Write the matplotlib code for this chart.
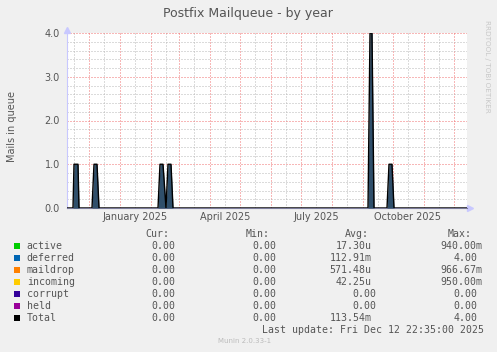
import numpy as np
import matplotlib
matplotlib.use('Agg')
import matplotlib.pyplot as plt
import matplotlib.dates as mdates
from matplotlib.patches import Rectangle
from matplotlib.ticker import MultipleLocator, FuncFormatter

# data (Total mails in queue)
total_dates = ['2024-11-09', '2024-11-15', '2024-11-16', '2024-11-20', '2024-11-21',
               '2024-12-04', '2024-12-06', '2024-12-09', '2024-12-11',
               '2025-02-08', '2025-02-10', '2025-02-13', '2025-02-16',
               '2025-02-18', '2025-02-21', '2025-02-23',
               '2025-09-06', '2025-09-08', '2025-09-10', '2025-09-12',
               '2025-09-25', '2025-09-27', '2025-09-30', '2025-10-02', '2025-12-14']
total_values = [0, 0, 1, 1, 0,
                0, 1, 1, 0,
                0, 1, 1, 0,
                1, 1, 0,
                0, 4, 4, 0,
                0, 1, 1, 0, 0]

x_start = '2024-11-09'
x_end = '2025-12-14'

legend_names = ['active', 'deferred', 'maildrop', 'incoming', 'corrupt', 'held', 'Total']
legend_colors = ['#00cc00', '#0066b3', '#ff8000', '#ffcc00', '#330099', '#990099', '#000000']
cur_vals = ['0.00'] * 7
min_vals = ['0.00'] * 7
avg_vals = ['17.30u', '112.91m', '571.48u', '42.25u', '0.00', '0.00', '113.54m']
max_vals = ['940.00m', '4.00', '966.67m', '950.00m', '0.00', '0.00', '4.00']

W, H = 497, 352
bg = '#f0f0f0'
txt = '#555555'

fig = plt.figure(figsize=(W / 100, H / 100), dpi=100, facecolor=bg)
ax = fig.add_axes([67 / W, (H - 208) / H, 400 / W, 175 / H])
ax.set_facecolor('white')

d = [np.datetime64(s) for s in total_dates]
d = mdates.date2num(np.array(d, dtype='datetime64[D]'))
ax.fill_between(d, total_values, color='#2f4f6b', lw=0, zorder=3)
ax.plot(d, total_values, color='black', lw=1.0, zorder=4)

ax.set_xlim(mdates.date2num(np.datetime64(x_start)), mdates.date2num(np.datetime64(x_end)))
ax.set_ylim(0, 4.0)

ax.xaxis.set_major_locator(mdates.MonthLocator(bymonthday=1))
ax.xaxis.set_minor_locator(mdates.MonthLocator(bymonthday=16))
ax.xaxis.set_major_formatter(FuncFormatter(lambda v, p: ''))
ax.xaxis.set_minor_formatter(FuncFormatter(
    lambda v, p: mdates.num2date(v).strftime('%B %Y') if mdates.num2date(v).month in (1, 4, 7, 10) else ''))
ax.yaxis.set_major_locator(MultipleLocator(1))
ax.yaxis.set_minor_locator(MultipleLocator(0.2))
ax.yaxis.set_major_formatter(FuncFormatter(lambda v, p: f'{v:.1f}'))

ax.grid(which='minor', color='#b8b8b8', lw=0.72, ls=(0, (1, 2)), zorder=1)
ax.grid(which='major', color='#f07070', lw=0.72, ls=(0, (1, 2)), zorder=2)
ax.set_axisbelow(True)
ax.tick_params(which='both', length=0, labelsize=7, labelcolor=txt)
ax.tick_params(axis='x', which='minor', pad=3)
ax.tick_params(axis='y', pad=5)

for s in ['top', 'right']:
    ax.spines[s].set_visible(False)
ax.spines['left'].set_color('#c8c8ff')
ax.spines['bottom'].set_color('#7a7a99')
ax.spines['left'].set_linewidth(0.8)
ax.spines['bottom'].set_linewidth(0.8)
ax.plot([1.0075], [0], marker='>', ms=4, color='#c8c8ff', transform=ax.transAxes, clip_on=False)
ax.plot([0], [1.02], marker='^', ms=4, color='#c8c8ff', transform=ax.transAxes, clip_on=False)

# overlay in pixel coordinates for title and legend
ov = fig.add_axes([0, 0, 1, 1], facecolor='none')
ov.set_xlim(0, W)
ov.set_ylim(H, 0)
ov.axis('off')

ov.text(248, 13, 'Postfix Mailqueue - by year', fontsize=9, color=txt, ha='center', va='center')
ov.text(12, 126, 'Mails in queue', fontsize=7, color=txt, rotation=90, ha='center', va='center')
ov.text(487, 20, 'RRDTOOL / TOBI OETIKER', fontsize=5.2, color='#c8c8c8', rotation=270,
        ha='center', va='top')

mono = 'DejaVu Sans Mono'
fs = 7.1
ov.text(145.7, 234, 'Cur:', family=mono, fontsize=fs, color=txt, va='center')
ov.text(246, 234, 'Min:', family=mono, fontsize=fs, color=txt, va='center')
ov.text(345, 234, 'Avg:', family=mono, fontsize=fs, color=txt, va='center')
ov.text(448, 234, 'Max:', family=mono, fontsize=fs, color=txt, va='center')

for i, name in enumerate(legend_names):
    y = 245.7 + 12 * i
    ov.add_patch(Rectangle((14, y - 3), 6, 6, color=legend_colors[i], lw=0))
    ov.text(26.7, y, name, family=mono, fontsize=fs, color=txt, va='center')
    ov.text(175, y, cur_vals[i], family=mono, fontsize=fs, color=txt, va='center', ha='right')
    ov.text(276, y, min_vals[i], family=mono, fontsize=fs, color=txt, va='center', ha='right')
    a = avg_vals[i]
    ov.text(376 if a[-1].isdigit() else 371.7, y, a, family=mono, fontsize=fs, color=txt,
            va='center', ha='right')
    m = max_vals[i]
    ov.text(477.3 if m[-1].isdigit() else 482.3, y, m, family=mono, fontsize=fs, color=txt,
            va='center', ha='right')

ov.text(261.7, 330, 'Last update: Fri Dec 12 22:35:00 2025', family=mono, fontsize=fs,
        color=txt, va='center')
ov.text(218, 341, 'Munin 2.0.33-1', fontsize=5, color='#bbbbbb', va='center')

fig.savefig('out.png', dpi=100, facecolor=bg)
